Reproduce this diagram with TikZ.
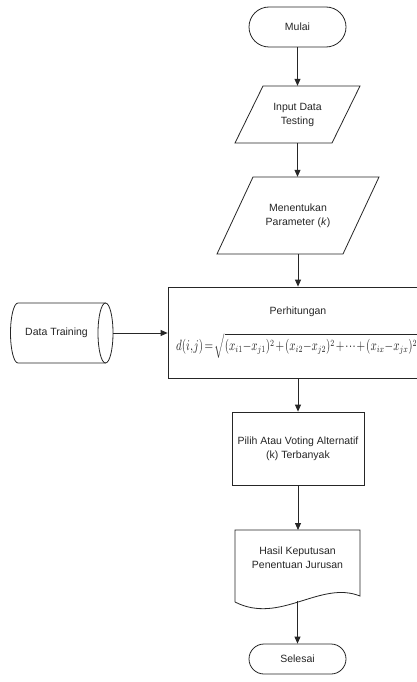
\documentclass[tikz,border=0pt]{standalone}
\usepackage[no-math]{fontspec}
\usepackage{graphicx}
\usetikzlibrary{arrows.meta,shapes.misc,shapes.geometric}
\newfontfamily\arialf{Liberation Sans}
\begin{document}
\begin{tikzpicture}[x=1pt,y=-1pt,
  every node/.style={font=\arialf\fontsize{10.5}{14}\selectfont, text=black!85, align=center},
  ln/.style={draw=black!85, line width=0.8pt},
  arr/.style={ln, -{Triangle[width=6pt,length=7pt]}},
  term/.style={ln, rounded rectangle, minimum width=97pt, inner sep=0pt},
  boxn/.style={inner sep=0pt}]
\useasboundingbox (0,0) rectangle (417,682);
\clip (0,0) rectangle (417,682);
\fill[white] (0,0) rectangle (417,682);

% Mulai
\node[term, minimum height=40pt] (mulai) at (297.5,27) {Mulai};

% Input Data Testing
\node[boxn, minimum width=98pt, minimum height=57pt] (in1) at (297.5,114.5) {Input Data\\Testing};
\draw[ln] (235,143) -- (263,86) -- (360,86) -- (332,143) -- cycle;

% Menentukan Parameter
\node[boxn, minimum width=126pt, minimum height=77pt] (par) at (298,215.5) {Menentukan\\Parameter (\textit{k})};
\draw[ln] (217,254) -- (253,177) -- (379,177) -- (343,254) -- cycle;

% Perhitungan
\node[ln, boxn, minimum width=262pt, minimum height=91pt] (calc) at (299,332.5) {};
\node (perh) at (298,312) {Perhitungan};
\node[anchor=west, inner sep=0pt] (form) at (176,346)
  {\scalebox{1}[1.35]{\resizebox{241pt}{!}{\thinmuskip=1mu\medmuskip=1.5mu\thickmuskip=2.5mu%
   $d(i,j) = \sqrt{(x_{i1}{-}x_{j1})^2+(x_{i2}{-}x_{j2})^2+{\cdots}+(x_{ix}{-}x_{jx})^2}$}}};

% Data Training cylinder
\node[boxn, minimum width=103pt, minimum height=60pt] (dt) at (61.5,333) {\hspace*{-10pt}Data Training};
\draw[ln] (105.5,303) -- (18,303) arc[start angle=-90, end angle=-270, x radius=7.5, y radius=30] -- (105.5,363);
\draw[ln] (105.5,333) ellipse [x radius=7.5, y radius=30];

% Pilih
\node[ln, boxn, minimum width=132pt, minimum height=73pt] (pilih) at (298,448.5) {Pilih Atau Voting Alternatif\\(k) Terbanyak};

% Hasil document
\node (hasil) at (297.5,558) {Hasil Keputusan\\Penentuan Jurusan};
\coordinate (hasiltop) at (297.5,530);
\coordinate (hasilbot) at (297.5,600.5);
\draw[ln] (235,602) -- (235,530) -- (360,530) -- (360,596)
  .. controls (320,580) and (280,625) .. (235,602);

% Selesai
\node[term, minimum height=30pt] (selesai) at (297.5,659) {Selesai};

% connectors
\draw[arr] (mulai.south) -- (in1.north);
\draw[arr] (in1.south) -- (in1.south |- par.north);
\draw[arr] (par.south) -- (par.south |- calc.north);
\draw[arr] (par.south |- calc.south) -- (par.south |- pilih.north);
\draw[arr] (pilih.south) -- (pilih.south |- hasiltop);
\draw[arr] (hasilbot) -- (selesai.north);
\draw[arr] (113,333) -- (113,333 -| calc.west);
\end{tikzpicture}
\end{document}
